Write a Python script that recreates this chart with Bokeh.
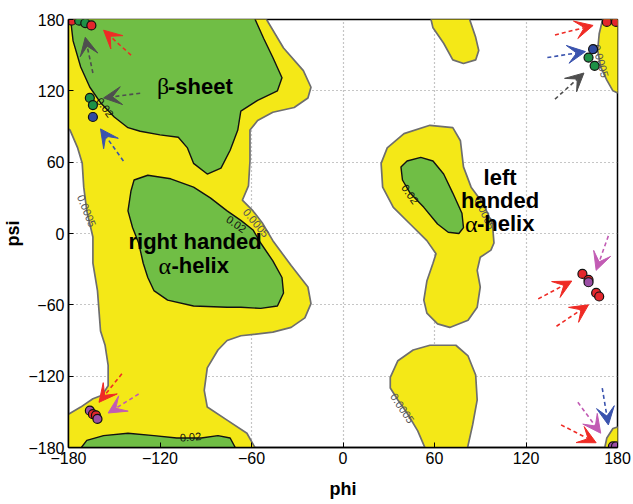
import numpy as np
from bokeh.plotting import figure
from bokeh.models import Range1d, FixedTicker, ColumnDataSource, Arrow, VeeHead
from bokeh.core.properties import value
from bokeh.embed import file_html
from bokeh.resources import INLINE

# ---------------- data (phi, psi in degrees) ----------------
ticks = [-180, -120, -60, 0, 60, 120, 180]

# 0.0005 density contour regions (yellow)
ymain_phi = [-180, -52, -39, -26, -21, -23, -32, -46, -56, -61, -61, -62, -66, -59, -53, -46, -34, -23, -21, -25, -34, -46,
             -67, -76, -82, -89, -91, -89, -76, -63, -56, -180, -180, -172, -164, -158, -154, -154, -156, -159, -161,
             -164, -164, -168, -170, -171, -174, -179, -180]
ymain_psi = [180, 180, 156, 137, 123, 114, 106, 102, 95, 87, 61, 40, 28, 19, 9, -6, -27, -45, -59, -71, -79, -83,
             -86, -90, -98, -113, -132, -146, -157, -168, -180, -180, -155, -146, -139, -136, -128, -111, -94, -82, -48,
             -25, -3, 19, 39, 59, 72, 87, 91]

yaL_phi = [25, 29, 40, 57, 72, 77, 79, 84, 92, 98, 99, 97, 90, 88, 90, 88, 82, 70, 62, 55, 53, 55, 59, 61, 55, 44, 33, 26]
yaL_psi = [59, 72, 84, 91, 89, 78, 56, 39, 25, 8, -8, -14, -20, -31, -45, -62, -73, -79, -76, -67, -56, -40, -25, -17,
           -6, 8, 22, 39]

ytop_phi = [57, 82, 87, 89, 87, 79, 72, 66, 59]
ytop_psi = [180, 180, 165, 154, 146, 143, 146, 160, 173]

ytr_phi = [171, 168, 167, 169, 173, 177, 180, 180]
ytr_psi = [180, 168, 154, 140, 129, 120, 116, 180]

ybr_phi = [171, 173, 177, 180, 180]
ybr_psi = [-180, -172, -164, -161, -180]

ybot_phi = [31, 36, 46, 57, 74, 82, 87, 88, 85, 81, 55, 49, 42, 36, 31]
ybot_psi = [-121, -107, -98, -94, -94, -103, -119, -140, -161, -180, -180, -166, -151, -140, -130]

# 0.02 density contour regions (green)
gbeta_phi = [-179, -59, -52, -46, -40, -43, -56, -67, -69, -74, -80, -89, -98, -102, -108, -120, -133, -141, -150,
             -159, -166, -172, -177]
gbeta_psi = [180, 180, 164, 148, 131, 120, 112, 103, 87, 70, 55, 50, 59, 72, 81, 83, 86, 89, 98, 110, 123, 140, 162]

gaR_phi = [-137, -128, -113, -98, -87, -76, -67, -59, -54, -46, -40, -39, -43, -54, -67, -76, -98, -115, -124, -128,
           -131, -134, -138, -141, -139]
gaR_psi = [45, 49, 46, 39, 30, 19, 11, 3, -8, -23, -37, -50, -61, -63, -62, -62, -61, -56, -48, -37, -25, -8, 5, 19, 36]

gaL_phi = [38, 42, 51, 59, 66, 72, 78, 79, 76, 69, 62, 53, 44, 39]
gaL_psi = [56, 61, 64, 61, 50, 34, 17, 5, 0, 1, 8, 22, 34, 45]

gbot_phi = [-174, -168, -157, -141, -124, -109, -93, -82, -74, -69]
gbot_psi = [-180, -174, -170, -168, -170, -172, -172, -170, -172, -180]

# contour labels
clab_text = ["0.0005", "0.02", "0.02", "0.0005", "0.02", "0.0005", "0.0005", "0.0005", "0.02"]
clab_phi = [-168, -156, -70, -57, 44, 93, 169, 39, -100]
clab_psi = [19, 106, 8, 9, 33, 17, 145, -147, -171]
clab_angle = [-68, -54, -35, -50, -55, -65, -74, -56, 5]
clab_color = ["#555555", "#111111", "#111111", "#555555", "#111111", "#555555", "#555555", "#555555", "#111111"]

# residues
dots_phi = [-178, -173, -169, -165, -166, -164, -164, 173, 179, 164, 161, 165,
            157, 161, 161, 166, 168, -166, -164, -162, -161, 177, 179]
dots_psi = [179, 179, 177, 175, 114, 108, 98, 178, 178, 155, 148, 141,
            -34, -39, -41, -50, -53, -149, -152, -153, -156, -179, -179]
dots_kind = ["red", "green", "green", "red", "green", "green", "blue", "red", "red", "blue", "green", "green",
             "red", "red", "purple", "red", "red", "purple", "red", "red", "purple", "purple", "purple"]

# arrows (tail -> head)
arr_phi0 = [-139, -164, -133, -144, 139, 134, 139, 174, 128, 140, 170, 154, 143, -145, -134]
arr_psi0 = [150, 135, 118, 61, 167, 148, 113, -2, -55, -78, -130, -142, -161, -118, -135]
arr_phi1 = [-157, -169, -157, -159, 164, 159, 158, 166, 150, 161, 174, 169, 166, -160, -154]
arr_psi1 = [171, 165, 114, 88, 175, 153, 135, -31, -40, -60, -161, -168, -176, -142, -151]
arr_kind = ["red", "gray", "gray", "blue", "red", "blue", "gray", "purple", "red", "red", "blue", "purple", "red",
            "red", "purple"]

# ---------------- styling ----------------
YELLOW = "#f4e817"
GREEN = "#70be45"
dot_colors = {"red": "#e3262c", "green": "#1d9146", "blue": "#2f4aa0", "purple": "#9b4ea5"}
arrow_colors = {"red": "#ef2b25", "gray": "#4e4e4e", "blue": "#3a53ae", "purple": "#c25cb4"}


def pad(v):
    a = np.asarray(v, dtype=float)
    return np.where(a >= 180, 184, np.where(a <= -180, -184, a))


p = figure(width=633, height=504, x_range=Range1d(-180, 180), y_range=Range1d(-180, 180),
           output_backend="svg", toolbar_location=None,
           min_border_left=68, min_border_right=16, min_border_top=19, min_border_bottom=57)
p.background_fill_color = "white"
p.border_fill_color = "white"
p.outline_line_color = "black"
p.outline_line_width = 1.5

for ax in (p.xaxis, p.yaxis):
    ax.ticker = FixedTicker(ticks=ticks)
    ax.major_label_overrides = {t: str(t).replace("-", "\u2212") for t in ticks}
    ax.major_label_text_font = "Liberation Sans"
    ax.major_label_text_font_size = "16px"
    ax.major_label_text_color = "black"
    ax.major_tick_in = 5
    ax.major_tick_out = 0
    ax.minor_tick_line_color = None
    ax.axis_line_color = "black"
    ax.axis_line_width = 1.5
    ax.major_tick_line_color = "black"
    ax.major_label_standoff = 4
    ax.axis_label_text_font = "Liberation Sans"
    ax.axis_label_text_font_style = "bold"
    ax.axis_label_text_font_size = "18px"
    ax.axis_label_text_color = "black"

p.xaxis.axis_label = "phi"
p.yaxis.axis_label = "psi"
p.xaxis.axis_label_standoff = 12
p.yaxis.axis_label_standoff = 2

for g in (p.xgrid, p.ygrid):
    g.grid_line_color = "#8c8c8c"
    g.grid_line_dash = "1 3"
    g.grid_line_width = 1.2

# filled contour regions
for xs, ys in [(ymain_phi, ymain_psi), (yaL_phi, yaL_psi), (ytop_phi, ytop_psi), (ytr_phi, ytr_psi),
               (ybr_phi, ybr_psi), (ybot_phi, ybot_psi)]:
    p.patch(pad(xs), pad(ys), fill_color=YELLOW, line_color="#6e6e6e", line_width=1.7)

for xs, ys in [(gbeta_phi, gbeta_psi), (gaR_phi, gaR_psi), (gaL_phi, gaL_psi), (gbot_phi, gbot_psi)]:
    p.patch(pad(xs), pad(ys), fill_color=GREEN, line_color="#111111", line_width=1.4)

# contour labels
p.text(x=clab_phi, y=clab_psi, text=clab_text, angle=clab_angle, angle_units="deg",
       text_color=clab_color, text_font=value("Liberation Sans"), text_font_size="11px",
       text_align="center", text_baseline="middle")

# arrows
for kind, col in arrow_colors.items():
    idx = [i for i, k in enumerate(arr_kind) if k == kind]
    src = ColumnDataSource(dict(x0=[arr_phi0[i] for i in idx], y0=[arr_psi0[i] for i in idx],
                                x1=[arr_phi1[i] for i in idx], y1=[arr_psi1[i] for i in idx]))
    p.add_layout(Arrow(source=src, x_start="x0", y_start="y0", x_end="x1", y_end="y1",
                       line_color=col, line_width=1.6, line_dash="4 3",
                       end=VeeHead(size=18, fill_color=col, line_color=col, line_width=1)))

# residue points
p.scatter(x=dots_phi, y=dots_psi, size=9, fill_color=[dot_colors[k] for k in dots_kind],
          line_color="#111111", line_width=1.2)

# region names
BIG = "22px"
sans = value("Liberation Sans")
serif = value("Liberation Serif")
p.text(x=[-97, 103, 103], y=[-7, 47, 28], text=["right handed", "left", "handed"], text_font=sans,
       text_font_style="bold", text_font_size=BIG, text_align="center", text_baseline="middle",
       text_color="black")
# greek-letter labels: greek glyph in serif, rest in bold sans
p.text(x=[-122, -121, 80], y=[124, -27, 8], text=["\u03b2", "\u03b1", "\u03b1"], text_font=serif,
       text_font_size="24px", text_align="left", text_baseline="middle", text_color="black")
p.text(x=[-122, -121, 80], y=[124, -27, 8], text=["-sheet", "-helix", "-helix"], x_offset=[11, 13, 12],
       text_font=sans, text_font_style="bold", text_font_size=BIG, text_align="left", text_baseline="middle",
       text_color="black")

open("out.html", "w").write(file_html(p, INLINE))
